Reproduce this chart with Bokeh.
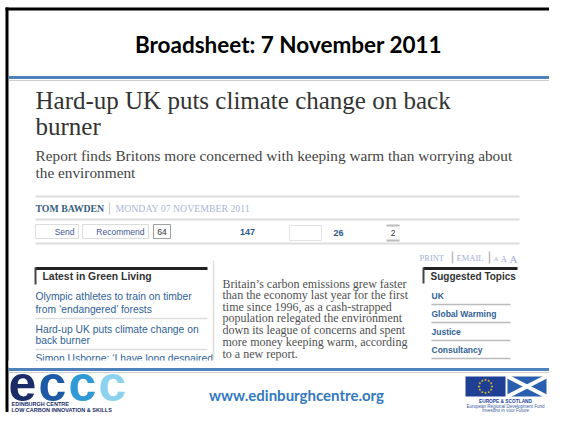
import numpy as np
from bokeh.plotting import figure
from bokeh.models import Range1d
from bokeh.core.properties import value
from bokeh.embed import file_html
from bokeh.resources import INLINE

# ---- content ----
slide_title = "Broadsheet: 7 November 2011"
headline_lines = ["Hard-up UK puts climate change on back", "burner"]
standfirst_lines = ["Report finds Britons more concerned with keeping warm than worrying about",
                    "the environment"]
author = "TOM BAWDEN"
dateline = "MONDAY 07 NOVEMBER 2011"
share_labels = ["Send", "Recommend"]
share_counts = ["64", "147", "26", "2"]
tool_links = ["PRINT", "EMAIL"]
latest_header = "Latest in Green Living"
latest_lines = ["Olympic athletes to train on timber", "from \u2018endangered\u2019 forests",
                "Hard-up UK puts climate change on", "back burner",
                "Simon Usborne: \u2018I have long despaired"]
body_lines = ["Britain\u2019s carbon emissions grew faster",
              "than the economy last year for the first",
              "time since 1996, as a cash-strapped",
              "population relegated the environment",
              "down its league of concerns and spent",
              "more money keeping warm, according",
              "to a new report."]
topics_header = "Suggested Topics"
topics = ["UK", "Global Warming", "Justice", "Consultancy"]
site_url = "www.edinburghcentre.org"
logo_letters = ["e", "c", "c", "c"]
logo_sub = ["EDINBURGH CENTRE", "LOW CARBON INNOVATION & SKILLS"]
fund_lines = ["EUROPE & SCOTLAND", "European Regional Development Fund", "Investing in your Future"]

W, H = 549, 412
p = figure(width=W, height=H, output_backend="svg", toolbar_location=None,
           x_range=Range1d(0, W), y_range=Range1d(H, 0),
           min_border=0, outline_line_color=None, background_fill_color="white",
           border_fill_color="white")
p.axis.visible = False
p.grid.visible = False


def txt(x, y, s, size, color, font="Liberation Sans", style="normal", align="left",
        baseline="middle"):
    p.text(x=[x], y=[y], text=[s], text_font=value(font), text_font_size=f"{size}px",
           text_color=color, text_font_style=style, text_align=align, text_baseline=baseline)


def hline(x0, x1, y, color, width=1, dash="solid"):
    p.segment(x0=[x0], y0=[y], x1=[x1], y1=[y], line_color=color, line_width=width,
              line_dash=dash)


def vline(x, y0, y1, color, width=1):
    p.segment(x0=[x], y0=[y0], x1=[x], y1=[y1], line_color=color, line_width=width)


def box(l, r, t, b, line="#dddddd", fill="white", width=1):
    p.quad(left=[l], right=[r], top=[t], bottom=[b], fill_color=fill, line_color=line,
           line_width=width)


# ---- slide frame & title ----
hline(5, 549, 8.5, "black", 3)
vline(6.5, 7, 412, "black", 3)
txt(288, 44, slide_title, 22.5, "black", "Lato", "bold", "center")
hline(8, 549, 77, "#4f81bd", 3)
hline(8, 549, 80, "#9a9a9a", 1, "1 1")

# ---- article header ----
SERIF = "Liberation Serif"
txt(35, 100, headline_lines[0], 25, "#333333", SERIF)
txt(35, 126, headline_lines[1], 25, "#333333", SERIF)
txt(35, 155, standfirst_lines[0], 15.3, "#444444", SERIF)
txt(35, 172, standfirst_lines[1], 15.3, "#444444", SERIF)

for yy in (196, 219, 243):
    hline(35, 519, yy, "#dddddd", 2)
txt(35, 208, author, 9.8, "#35607f", SERIF, "bold")
vline(109, 202, 214, "#cccccc", 1)
txt(115, 208, dateline, 9.8, "#a9b7d8", SERIF)

# share row
box(35, 78, 224, 238)
txt(74, 231, share_labels[0], 8.5, "#3b5998", align="right")
box(82, 148, 224, 238)
txt(144, 231, share_labels[1], 8.5, "#3b5998", align="right")
box(153, 170, 224, 238, line="#a0a0a0")
txt(161.5, 231, share_counts[0], 8.5, "#333333", align="center")
txt(247, 231, share_counts[1], 9, "#2a5a8a", style="bold", align="center")
box(289, 321, 225, 240, line="#e2e2e2")
txt(338, 232, share_counts[2], 9, "#2a5a8a", style="bold", align="center")
hline(386, 399, 225, "#bbbbbb", 2)
hline(386, 399, 240, "#bbbbbb", 2)
txt(392.5, 232, share_counts[3], 8.5, "#333333", align="center")

# print / email / font size
TL = "#9fb0d6"
txt(419, 257, tool_links[0], 8.5, TL, SERIF)
vline(452, 251, 263, "#bbbbbb", 1.5)
txt(456, 257, tool_links[1], 8.5, TL, SERIF)
vline(489, 251, 263, "#bbbbbb", 1.5)
txt(493, 258, "A", 7, TL, SERIF)
txt(500, 258, "A", 9, TL, SERIF)
txt(509, 258, "A", 11, TL, SERIF)

# ---- left column ----
hline(35, 207, 268, "#222222", 3)
vline(35, 267, 284, "#444444", 2)
txt(42, 276, latest_header, 10.4, "#333333", style="bold")
LINK = "#2f5f98"
txt(35, 296, latest_lines[0], 10.3, LINK)
txt(35, 309, latest_lines[1], 10.3, LINK)
hline(35, 207, 318, "#dddddd", 1.5)
txt(35, 329, latest_lines[2], 10.3, LINK)
txt(35, 340, latest_lines[3], 10.3, LINK)
hline(35, 207, 349, "#dddddd", 1.5)
txt(35, 358, latest_lines[4], 10.3, LINK)

vline(213, 260, 360, "#dddddd", 1.5)

# ---- body ----
for yy, line in zip((283, 294.5, 306, 317.5, 329, 341, 353), body_lines):
    txt(222, yy, line, 12, "#505050", SERIF)

# ---- right column ----
hline(423, 517, 268, "#222222", 3)
vline(423, 267, 283, "#444444", 2)
txt(430, 276, topics_header, 10, "#333333", style="bold")
for yy, t in zip((295, 313, 331, 349), topics):
    txt(431, yy, t, 8.5, LINK, style="bold")
for yy in (304, 322, 340, 358):
    hline(431, 510, yy, "#bbbbbb", 1.5)

# clip the screenshot bottom
box(8, 549, 360, 367, line=None)

# ---- footer ----
hline(8, 549, 369, "#4f81bd", 3)
hline(8, 549, 372, "#9a9a9a", 1, "1 1")

logo_cols = ["#1b2d68", "#1d5aa6", "#2f9ad6", "#8cd2ef"]
for xx, ch, c in zip((8, 38, 68, 98), logo_letters, logo_cols):
    txt(xx, 383, ch, 50, c, "Liberation Sans", "bold")
txt(11, 403.5, logo_sub[0], 5.5, "#1b2d68", style="bold")
txt(11, 409, logo_sub[1], 5.5, "#1b2d68", style="bold")

txt(296, 394, site_url, 15, "#3379bf", "Lato", "bold", "center")

# EU flag
box(465, 505, 376, 396, line=None, fill="#1f3f95")
ang = np.linspace(0, 2 * np.pi, 12, endpoint=False)
p.scatter(x=485 + 6.5 * np.cos(ang), y=386 + 6.5 * np.sin(ang), marker="star", size=3,
          fill_color="#f4d20f", line_color=None)
# Scotland flag
box(507, 546, 376, 396, line=None, fill="#2a5fae")
p.segment(x0=[507, 507], y0=[376, 396], x1=[546, 546], y1=[396, 376], line_color="white",
          line_width=4)
txt(505, 401, fund_lines[0], 4.8, "#1f3f95", style="bold", align="center")
txt(505, 405.5, fund_lines[1], 4.5, "#3a5aa0", align="center")
txt(505, 409.5, fund_lines[2], 4.5, "#3a5aa0", align="center")

open("out.html", "w").write(file_html(p, INLINE))
